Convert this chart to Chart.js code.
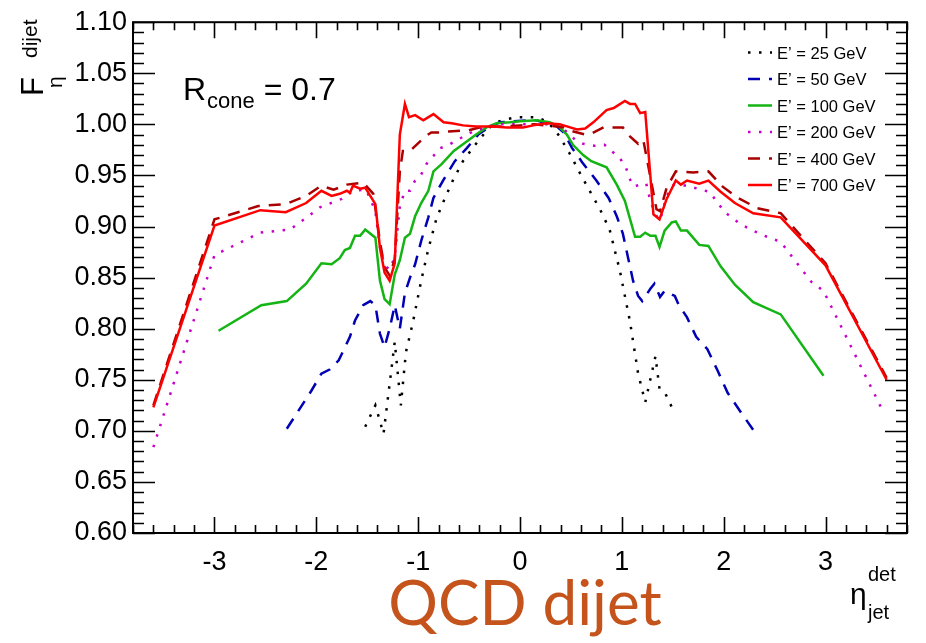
<!DOCTYPE html>
<html>
<head>
<meta charset="utf-8">
<title>F eta dijet</title>
<script src="https://cdn.jsdelivr.net/npm/chart.js@4.4.1/dist/chart.umd.min.js"></script>
<style>
  html, body { margin: 0; padding: 0; background: #fff; }
  #wrap { width: 926px; height: 643px; position: relative; }
</style>
</head>
<body>
<div id="wrap"><canvas id="grafico" width="926" height="643"></canvas></div>
<script>
// eta_jet^det points and F_eta^dijet values, one pair of arrays per E'
const eta25 = [-1.52, -1.42, -1.34, -1.23, -1.17, -1.12, -1.05, -0.97, -0.90, -0.82, -0.74, -0.66, -0.56, -0.44, -0.31, -0.23, -0.13, -0.03, 0.17, 0.26, 0.33, 0.39, 0.49, 0.59, 0.69, 0.79, 0.88, 0.98, 1.08, 1.16, 1.23, 1.33, 1.37, 1.43, 1.52];
const f25   = [0.704, 0.725, 0.697, 0.787, 0.725, 0.777, 0.807, 0.847, 0.878, 0.908, 0.927, 0.945, 0.964, 0.980, 0.996, 1.002, 1.005, 1.007, 1.007, 1.003, 0.996, 0.988, 0.971, 0.952, 0.934, 0.916, 0.897, 0.857, 0.807, 0.756, 0.728, 0.773, 0.741, 0.736, 0.717];

const eta50 = [-2.29, -2.05, -1.95, -1.87, -1.78, -1.67, -1.62, -1.54, -1.47, -1.42, -1.375, -1.33, -1.28, -1.23, -1.18, -1.13, -1.08, -1.03, -0.97, -0.90, -0.85, -0.75, -0.64, -0.52, -0.41, -0.31, -0.20, -0.07, 0.07, 0.16, 0.29, 0.34, 0.43, 0.51, 0.61, 0.75, 0.87, 0.95, 1.01, 1.06, 1.11, 1.16, 1.20, 1.28, 1.32, 1.375, 1.42, 1.52, 1.555, 1.64, 1.73, 1.84, 1.94, 2.04, 2.17, 2.29];
const f50   = [0.702, 0.739, 0.756, 0.760, 0.769, 0.792, 0.808, 0.823, 0.827, 0.823, 0.795, 0.782, 0.800, 0.823, 0.800, 0.835, 0.850, 0.863, 0.886, 0.909, 0.928, 0.946, 0.964, 0.977, 0.990, 0.997, 1.002, 1.003, 1.004, 1.004, 1.000, 1.000, 0.992, 0.977, 0.963, 0.945, 0.928, 0.910, 0.893, 0.870, 0.847, 0.832, 0.827, 0.839, 0.844, 0.831, 0.837, 0.832, 0.824, 0.811, 0.792, 0.780, 0.759, 0.737, 0.718, 0.701];

const eta100 = [-2.96, -2.54, -2.29, -2.10, -1.95, -1.85, -1.77, -1.72, -1.67, -1.62, -1.57, -1.52, -1.42, -1.375, -1.33, -1.28, -1.23, -1.18, -1.13, -1.08, -1.03, -0.97, -0.90, -0.85, -0.77, -0.65, -0.54, -0.43, -0.33, -0.23, -0.10, 0.0, 0.16, 0.29, 0.38, 0.46, 0.52, 0.62, 0.70, 0.85, 0.95, 1.03, 1.13, 1.18, 1.23, 1.28, 1.33, 1.37, 1.42, 1.49, 1.53, 1.58, 1.64, 1.76, 1.85, 1.97, 2.11, 2.29, 2.56, 2.98];
const f100   = [0.798, 0.823, 0.827, 0.844, 0.864, 0.863, 0.869, 0.877, 0.879, 0.891, 0.891, 0.897, 0.889, 0.847, 0.829, 0.824, 0.853, 0.867, 0.889, 0.893, 0.910, 0.923, 0.935, 0.954, 0.961, 0.974, 0.982, 0.990, 0.997, 1.001, 1.002, 1.003, 1.004, 1.002, 0.998, 0.990, 0.980, 0.970, 0.964, 0.958, 0.941, 0.925, 0.890, 0.890, 0.894, 0.891, 0.891, 0.880, 0.896, 0.904, 0.905, 0.896, 0.896, 0.882, 0.881, 0.861, 0.843, 0.826, 0.814, 0.754];

const eta200 = [-3.6, -3.0, -2.55, -2.26, -2.08, -1.96, -1.75, -1.64, -1.51, -1.42, -1.375, -1.33, -1.28, -1.23, -1.18, -1.13, -1.08, -1.03, -0.97, -0.92, -0.85, -0.80, -0.70, -0.61, -0.52, -0.44, -0.33, -0.23, -0.10, 0.0, 0.13, 0.26, 0.38, 0.54, 0.62, 0.73, 0.83, 0.91, 0.98, 1.04, 1.07, 1.12, 1.20, 1.24, 1.28, 1.33, 1.375, 1.44, 1.51, 1.64, 1.78, 1.86, 2.01, 2.17, 2.37, 2.56, 2.86, 2.98, 3.57];
const f200   = [0.684, 0.872, 0.894, 0.897, 0.910, 0.919, 0.927, 0.935, 0.936, 0.915, 0.880, 0.862, 0.858, 0.870, 0.920, 0.935, 0.935, 0.945, 0.951, 0.961, 0.969, 0.976, 0.980, 0.985, 0.990, 0.994, 0.997, 1.000, 1.000, 1.000, 1.000, 1.000, 1.000, 0.985, 0.981, 0.979, 0.980, 0.973, 0.967, 0.958, 0.948, 0.939, 0.942, 0.942, 0.925, 0.912, 0.906, 0.930, 0.941, 0.940, 0.936, 0.934, 0.914, 0.902, 0.892, 0.885, 0.846, 0.837, 0.718];

const eta400 = [-3.6, -3.0, -2.57, -2.30, -2.10, -1.95, -1.83, -1.70, -1.54, -1.44, -1.375, -1.33, -1.28, -1.23, -1.18, -1.15, -1.08, -0.92, -0.87, -0.77, -0.70, -0.57, -0.51, -0.40, -0.26, -0.13, 0.0, 0.13, 0.26, 0.43, 0.49, 0.64, 0.70, 0.82, 0.87, 1.01, 1.06, 1.16, 1.21, 1.26, 1.34, 1.375, 1.44, 1.53, 1.70, 1.85, 1.99, 2.14, 2.33, 2.56, 3.0, 3.6];
const f400   = [0.725, 0.907, 0.920, 0.922, 0.930, 0.940, 0.936, 0.941, 0.943, 0.932, 0.885, 0.860, 0.852, 0.868, 0.954, 0.974, 0.974, 0.989, 0.992, 0.992, 0.993, 0.994, 0.994, 0.997, 0.998, 0.998, 0.999, 1.000, 0.999, 0.997, 0.994, 0.990, 0.991, 0.997, 0.997, 0.997, 0.990, 0.981, 0.985, 0.959, 0.917, 0.915, 0.938, 0.954, 0.953, 0.954, 0.939, 0.928, 0.918, 0.913, 0.864, 0.752];

const eta700 = [-3.6, -3.0, -2.55, -2.30, -2.10, -1.95, -1.85, -1.77, -1.70, -1.67, -1.64, -1.57, -1.52, -1.42, -1.375, -1.33, -1.28, -1.23, -1.18, -1.13, -1.09, -1.03, -0.95, -0.85, -0.75, -0.67, -0.56, -0.43, -0.26, -0.13, 0.03, 0.13, 0.26, 0.39, 0.46, 0.56, 0.64, 0.72, 0.85, 0.92, 1.03, 1.08, 1.13, 1.18, 1.23, 1.31, 1.37, 1.44, 1.53, 1.58, 1.64, 1.76, 1.85, 1.97, 2.11, 2.29, 2.56, 3.0, 3.6];
const f700   = [0.723, 0.901, 0.916, 0.914, 0.923, 0.935, 0.930, 0.932, 0.935, 0.933, 0.940, 0.937, 0.938, 0.922, 0.879, 0.855, 0.847, 0.864, 0.990, 1.020, 1.007, 1.009, 1.004, 1.010, 1.002, 1.001, 0.999, 0.998, 0.998, 0.997, 0.997, 0.999, 1.001, 1.000, 0.998, 0.995, 0.996, 1.002, 1.014, 1.016, 1.023, 1.020, 1.020, 1.011, 1.012, 0.912, 0.907, 0.927, 0.945, 0.941, 0.945, 0.942, 0.945, 0.934, 0.923, 0.913, 0.909, 0.862, 0.750];

const etiquetas = ['E\u2019 = 25 GeV', 'E\u2019 = 50 GeV', 'E\u2019 = 100 GeV', 'E\u2019 = 200 GeV', 'E\u2019 = 400 GeV', 'E\u2019 = 700 GeV'];

const FUENTE = '"Liberation Sans", Arial, Helvetica, sans-serif';

function puntos(xs, ys) {
    return xs.map((x, i) => ({ x: x, y: ys[i] }));
}

// estilo de cada curva (color, trazo); el orden alto se dibuja primero
const series = [
    { label: etiquetas[0], data: puntos(eta25, f25),   borderColor: '#000000', borderDash: [2.5, 8.5], borderWidth: 2.5, order: 6 },
    { label: etiquetas[1], data: puntos(eta50, f50),   borderColor: '#0000b4', borderDash: [12, 9],    borderWidth: 2.5, order: 5 },
    { label: etiquetas[2], data: puntos(eta100, f100), borderColor: '#14b414', borderDash: [],         borderWidth: 2.5, order: 4 },
    { label: etiquetas[3], data: puntos(eta200, f200), borderColor: '#c800c8', borderDash: [2.5, 8.5], borderWidth: 2.5, order: 3 },
    { label: etiquetas[4], data: puntos(eta400, f400), borderColor: '#aa0000', borderDash: [12, 9],    borderWidth: 2.5, order: 2 },
    { label: etiquetas[5], data: puntos(eta700, f700), borderColor: '#ff0000', borderDash: [],         borderWidth: 2.5, order: 1 }
];

// marco con marcas hacia dentro en los cuatro lados
const marcoRoot = {
    id: 'marcoRoot',
    afterDatasetsDraw(chart) {
        const { ctx, chartArea: a, scales: { x, y } } = chart;
        ctx.save();
        ctx.strokeStyle = '#000';
        ctx.lineWidth = 1.6;
        ctx.beginPath();
        for (let i = -19; i <= 19; i++) {
            const v = i * 0.2;
            const px = Math.round(x.getPixelForValue(v)) + 0.5;
            const mayor = i % 5 === 0;
            const largo = mayor ? 16 : 8;
            ctx.moveTo(px, a.bottom); ctx.lineTo(px, a.bottom - largo);
            ctx.moveTo(px, a.top); ctx.lineTo(px, a.top + largo);
        }
        for (let i = 60; i <= 110; i++) {
            const v = i / 100;
            const py = Math.round(y.getPixelForValue(v)) + 0.5;
            const largo = i % 5 === 0 ? 22 : 11;
            ctx.moveTo(a.left, py); ctx.lineTo(a.left + largo, py);
            ctx.moveTo(a.right, py); ctx.lineTo(a.right - largo, py);
        }
        ctx.stroke();
        ctx.lineWidth = 2;
        ctx.strokeRect(a.left, a.top, a.right - a.left, a.bottom - a.top);
        ctx.restore();
    }
};

// leyenda arriba a la derecha y textos sueltos
const textosRoot = {
    id: 'textosRoot',
    afterDraw(chart) {
        const ctx = chart.ctx;
        ctx.save();

        // leyenda
        ctx.font = '16.5px ' + FUENTE;
        ctx.textBaseline = 'alphabetic';
        ctx.textAlign = 'left';
        chart.data.datasets.forEach((ds, i) => {
            const yc = 52.5 + i * 26.5;
            ctx.strokeStyle = ds.borderColor;
            ctx.lineWidth = ds.borderWidth;
            ctx.setLineDash(ds.borderDash);
            ctx.beginPath();
            ctx.moveTo(748, yc);
            ctx.lineTo(772, yc);
            ctx.stroke();
            ctx.setLineDash([]);
            ctx.fillStyle = '#000';
            ctx.fillText(ds.label, 777, yc + 6);
        });

        // R_cone = 0.7
        ctx.fillStyle = '#000';
        ctx.font = '32px ' + FUENTE;
        ctx.fillText('R', 183, 100);
        const wR = ctx.measureText('R').width;
        ctx.font = '22px ' + FUENTE;
        ctx.fillText('cone', 183 + wR + 1, 108);
        const wc = ctx.measureText('cone').width;
        ctx.font = '32px ' + FUENTE;
        ctx.fillText(' = 0.7', 183 + wR + 1 + wc, 100);

        // titulo del eje y: F_eta^dijet, girado
        ctx.save();
        ctx.translate(43, 96);
        ctx.rotate(-Math.PI / 2);
        ctx.font = '31px ' + FUENTE;
        ctx.fillText('F', 0, 0);
        ctx.restore();
        ctx.save();
        ctx.translate(37, 58);
        ctx.rotate(-Math.PI / 2);
        ctx.font = '21px ' + FUENTE;
        ctx.fillText('dijet', 0, 0);
        ctx.restore();
        ctx.save();
        ctx.translate(62, 88);
        ctx.rotate(-Math.PI / 2);
        ctx.font = '21px ' + FUENTE;
        ctx.fillText('\u03b7', 0, 0);
        ctx.restore();

        // titulo del eje x: eta_jet^det
        ctx.font = '30px ' + FUENTE;
        ctx.fillText('\u03b7', 850, 604);
        ctx.font = '20px ' + FUENTE;
        ctx.fillText('det', 868, 581);
        ctx.fillText('jet', 868, 619);

        // rotulo inferior
        ctx.font = '62px Lato, "Open Sans", sans-serif';
        ctx.fillStyle = '#c5541c';
        ctx.textAlign = 'center';
        ctx.fillText('QCD dijet', 525, 625);

        ctx.restore();
    }
};

const ctx = document.getElementById('grafico').getContext('2d');
window.miGrafico = new Chart(ctx, {
    type: 'line',
    data: { datasets: series },
    options: {
        responsive: false,
        animation: false,
        devicePixelRatio: 1,
        layout: { padding: { top: 21, right: 19, left: 0, bottom: 0 } },
        elements: {
            point: { radius: 0, hoverRadius: 0 },
            line: { tension: 0, fill: false, borderCapStyle: 'butt', borderJoinStyle: 'miter' }
        },
        plugins: {
            legend: { display: false },
            tooltip: { enabled: false }
        },
        scales: {
            x: {
                type: 'linear',
                min: -3.8,
                max: 3.8,
                grid: { display: false, drawTicks: false },
                border: { display: false },
                ticks: {
                    stepSize: 1,
                    includeBounds: false,
                    maxRotation: 0,
                    autoSkip: false,
                    padding: 13,
                    color: '#000',
                    font: { family: FUENTE, size: 27 },
                    callback: v => String(Math.round(v))
                },
                afterFit(s) { s.height = 110; }
            },
            y: {
                min: 0.6,
                max: 1.1,
                grid: { display: false, drawTicks: false },
                border: { display: false },
                ticks: {
                    stepSize: 0.05,
                    autoSkip: false,
                    padding: 6,
                    color: '#000',
                    font: { family: FUENTE, size: 27 },
                    callback: v => Number(v).toFixed(2)
                },
                afterFit(s) { s.width = 133; }
            }
        }
    },
    plugins: [marcoRoot, textosRoot]
});
</script>
</body>
</html>
